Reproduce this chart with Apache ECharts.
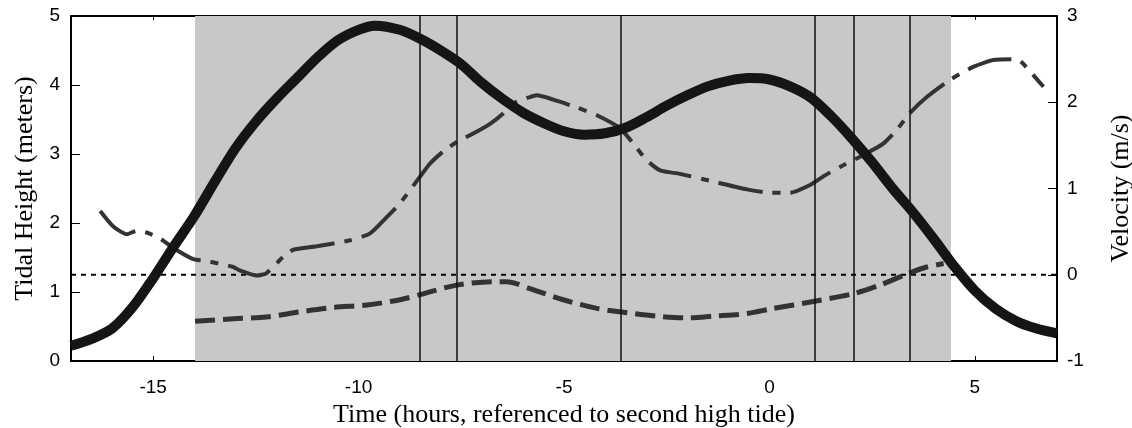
<html>
<head>
    <meta charset="utf-8">
    <title>Tidal height and velocity</title>
    <style type="text/css">
        body { margin: 0; background: #fff; }
        #chart { width: 1132px; height: 428px; }
    </style>
</head>
<body>
    <div id="chart"></div>
</body>
</html>

<script src="https://cdn.jsdelivr.net/npm/echarts@6/dist/echarts.min.js"></script>
<script>

    // tidal height (left axis, meters)
    var tideHours = [-17, -16.5, -16, -15.5, -15, -14.5, -14, -13.5, -13, -12.5, -12, -11.5, -11, -10.5, -10, -9.6,
        -9, -8.5, -8, -7.5, -7, -6.5, -6, -5.5, -5, -4.5, -4, -3.5, -3, -2.5, -2, -1.5, -1, -0.5, 0,
        0.5, 1, 1.5, 2, 2.5, 3, 3.5, 4, 4.5, 5, 5.5, 6, 6.5, 7];
    var tideHeight = [0.22, 0.32, 0.47, 0.78, 1.2, 1.66, 2.1, 2.6, 3.08, 3.47, 3.8, 4.1, 4.4, 4.65, 4.8, 4.86,
        4.8, 4.67, 4.5, 4.3, 4.03, 3.8, 3.6, 3.45, 3.33, 3.28, 3.3, 3.38, 3.53, 3.7, 3.85, 3.98, 4.06, 4.1, 4.08,
        3.98, 3.82, 3.55, 3.23, 2.88, 2.5, 2.15, 1.77, 1.37, 1.02, 0.76, 0.58, 0.47, 0.4];

    // dash-dot velocity trace (right axis, m/s)
    var dashDotHours = [-16.29, -15.97, -15.64, -15.4, -15.16, -14.83, -14.51, -14.02, -13.7, -13.05, -12.89, -12.48,
        -12.24, -11.83, -11.59, -11.02, -10.2, -9.72, -9.31, -8.99, -8.5, -8.26, -7.94, -7.61, -7.2, -6.8, -6.48,
        -6.23, -5.83, -5.66, -5.26, -4.69, -4.2, -3.64, -3.31, -2.99, -2.66, -2.18, -1.36, -0.55, 0.02, 0.5, 0.99,
        1.31, 1.72, 2.37, 2.77, 3.1, 3.41, 3.83, 4.4, 4.96, 5.45, 6.02, 6.17, 6.67];
    var dashDotVel = [0.74, 0.56, 0.47, 0.51, 0.49, 0.42, 0.31, 0.18, 0.16, 0.09, 0.05, -0.01,
        0.02, 0.21, 0.29, 0.33, 0.4, 0.48, 0.67, 0.83, 1.14, 1.29, 1.43, 1.54, 1.64, 1.75, 1.87,
        1.99, 2.06, 2.08, 2.03, 1.94, 1.85, 1.7, 1.52, 1.33, 1.21, 1.17, 1.08, 0.99, 0.95, 0.95, 1.04,
        1.14, 1.25, 1.41, 1.52, 1.68, 1.87, 2.06, 2.26, 2.41, 2.49, 2.5, 2.45, 2.18];

    // dashed velocity trace (right axis, m/s)
    var dashedHours = [-13.98, -13.05, -12.24, -11.43, -10.62, -9.8, -8.99, -8.5, -7.61, -6.72, -6.4, -5.83, -5.02,
        -4.2, -3.64, -2.74, -2.01, -1.36, -0.55, 0.1, 1.07, 2.04, 2.69, 3.41, 3.83, 4.24];
    var dashedVel = [-0.54, -0.51, -0.49, -0.43, -0.38, -0.35, -0.29, -0.23, -0.12, -0.08, -0.08, -0.16, -0.29,
        -0.39, -0.43, -0.48, -0.5, -0.48, -0.45, -0.39, -0.31, -0.22, -0.12, 0.02, 0.09, 0.13];

    var shadeSpan = [-13.98, 4.42];
    var eventHours = [-8.5, -7.6, -3.62, 1.1, 2.05, 3.41];
    var xTicks = [-15, -10, -5, 0, 5];

    function pairs(xs, ys) {
        var out = [];
        for (var i = 0; i < xs.length; i++) {
            out.push([xs[i], ys[i]]);
        }
        return out;
    }

    var tickFont = { fontFamily: 'Liberation Sans', fontSize: 19, color: '#000' };
    var titleFont = { fontFamily: 'Liberation Serif', fontSize: 26, color: '#000' };
    var axisLine = { show: true, onZero: false, lineStyle: { color: '#000', width: 2 } };

    var option = {
        animation: false,
        backgroundColor: '#fff',
        grid: { left: 71, right: 75, top: 16, bottom: 67, outerBoundsMode: 'none' },
        xAxis: [{
            type: 'value',
            position: 'bottom',
            min: -17,
            max: 7,
            name: 'Time (hours, referenced to second high tide)',
            nameLocation: 'middle',
            nameGap: 38,
            nameTextStyle: titleFont,
            axisLine: axisLine,
            axisTick: { show: true, inside: true, length: 5, customValues: xTicks, lineStyle: { color: '#000' } },
            axisLabel: Object.assign({ margin: 17, customValues: xTicks }, tickFont),
            splitLine: { show: false }
        }, {
            type: 'value',
            position: 'top',
            min: -17,
            max: 7,
            axisLine: axisLine,
            axisTick: { show: true, inside: true, length: 4, customValues: xTicks, lineStyle: { color: '#000' } },
            axisLabel: { show: false },
            splitLine: { show: false }
        }],
        yAxis: [{
            type: 'value',
            position: 'left',
            min: 0,
            max: 5,
            interval: 1,
            name: 'Tidal Height (meters)',
            nameLocation: 'middle',
            nameGap: 33,
            nameRotate: 90,
            nameTextStyle: titleFont,
            axisLine: axisLine,
            axisTick: { show: true, inside: true, length: 9, lineStyle: { color: '#000' } },
            axisLabel: Object.assign({ margin: 11 }, tickFont),
            splitLine: { show: false }
        }, {
            type: 'value',
            position: 'right',
            min: -1,
            max: 3,
            interval: 1,
            name: 'Velocity (m/s)',
            nameLocation: 'middle',
            nameGap: 51,
            nameRotate: 90,
            nameTextStyle: titleFont,
            axisLine: axisLine,
            axisTick: { show: true, inside: true, length: 9, lineStyle: { color: '#000' } },
            axisLabel: Object.assign({ margin: 10 }, tickFont),
            splitLine: { show: false }
        }],
        series: [{
            // shaded window and event markers
            type: 'line',
            xAxisIndex: 0,
            yAxisIndex: 1,
            data: [],
            z: 1,
            silent: true,
            markArea: {
                silent: true,
                itemStyle: { color: '#c8c8c8' },
                data: [[{ xAxis: shadeSpan[0] }, { xAxis: shadeSpan[1] }]]
            },
            markLine: {
                silent: true,
                symbol: 'none',
                label: { show: false },
                lineStyle: { color: '#111', width: 1.5, type: 'solid' },
                data: eventHours.map(function (h) { return { xAxis: h }; })
            }
        }, {
            name: 'zero',
            type: 'line',
            xAxisIndex: 0,
            yAxisIndex: 1,
            z: 3,
            showSymbol: false,
            data: [[-17, 0], [7, 0]],
            lineStyle: { color: '#000', width: 2, type: [5, 5] }
        }, {
            name: 'dashdot',
            type: 'line',
            xAxisIndex: 0,
            yAxisIndex: 1,
            z: 4,
            showSymbol: false,
            smooth: 0.2,
            data: pairs(dashDotHours, dashDotVel),
            lineStyle: { color: '#333', width: 4, type: [45, 10, 8, 10] }
        }, {
            name: 'dashed',
            type: 'line',
            xAxisIndex: 0,
            yAxisIndex: 1,
            z: 4,
            showSymbol: false,
            smooth: 0.3,
            data: pairs(dashedHours, dashedVel),
            lineStyle: { color: '#333', width: 5, type: [20, 8] }
        }, {
            name: 'tide',
            type: 'line',
            xAxisIndex: 0,
            yAxisIndex: 0,
            z: 5,
            showSymbol: false,
            smooth: 0.3,
            data: pairs(tideHours, tideHeight),
            lineStyle: { color: '#151515', width: 10 }
        }]
    };

    var chart = echarts.init(document.getElementById('chart'));
    chart.setOption(option);

</script>
